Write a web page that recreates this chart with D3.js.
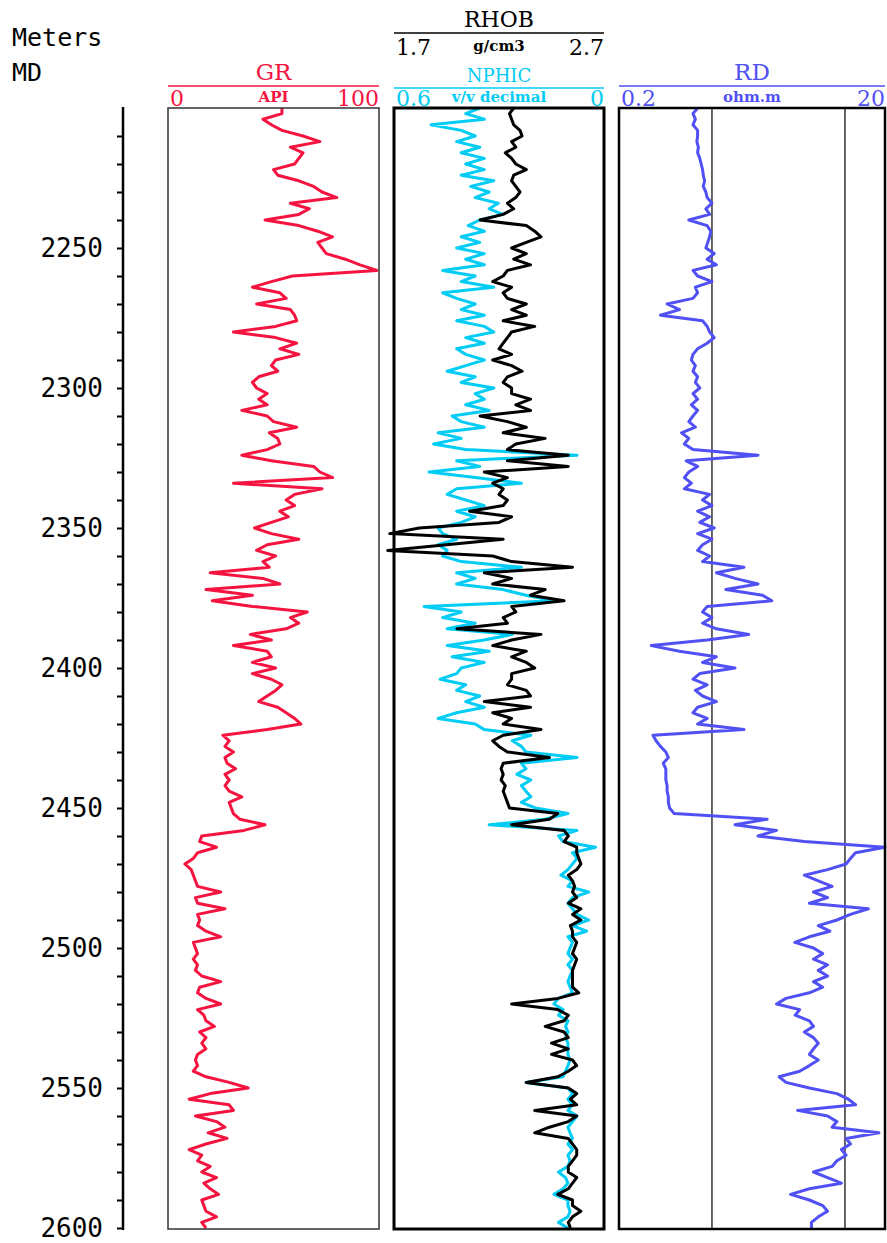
<!DOCTYPE html>
<html>
<head>
<meta charset="utf-8">
<script src="https://cdn.jsdelivr.net/npm/d3@7"></script>
<style>
body { margin: 0; background: #fff; }
</style>
</head>
<body>
<div id="chart"></div>
<script>
// Page size
var w = 887;
var h = 1243;

// Depth samples (m MD), one every 2 m
var depth = d3.range(2200, 2601, 2);

// Gamma ray, API
var gr = [
  54, 54, 45, 49, 54, 64, 72, 58, 64, 62,
  60, 50, 52, 62, 69, 73, 80, 58, 67, 62,
  46, 62, 71, 78, 71, 73, 75, 84, 91, 99,
  59, 49, 40, 53, 56, 42, 58, 60, 61, 51,
  31, 51, 61, 53, 62, 51, 49, 52, 43, 40,
  42, 47, 43, 47, 35, 47, 50, 61, 48, 52,
  53, 47, 35, 49, 69, 72, 78, 31, 73, 60,
  56, 60, 53, 57, 49, 41, 49, 62, 47, 42,
  51, 45, 48, 20, 45, 53, 18, 40, 21, 40,
  66, 58, 62, 56, 39, 49, 31, 47, 49, 40,
  51, 40, 49, 54, 51, 47, 43, 52, 56, 60,
  63, 47, 26, 29, 27, 31, 27, 28, 32, 27,
  29, 27, 29, 35, 29, 30, 31, 34, 46, 36,
  16, 15, 23, 14, 12, 8, 11, 12, 13, 14,
  25, 13, 14, 27, 14, 15, 14, 18, 25, 12,
  13, 14, 12, 14, 13, 16, 25, 15, 14, 18,
  25, 14, 17, 18, 22, 15, 18, 16, 18, 14,
  13, 14, 12, 18, 29, 38, 20, 10, 29, 31,
  13, 23, 27, 19, 28, 18, 10, 16, 14, 20,
  16, 23, 17, 20, 24, 16, 17, 18, 23, 16,
  18
];

// Neutron porosity, v/v decimal
var nphi = [
  0.355, 0.395, 0.342, 0.494, 0.408, 0.368, 0.421, 0.355, 0.408, 0.342,
  0.395, 0.342, 0.408, 0.315, 0.381, 0.328, 0.368, 0.302, 0.328, 0.289,
  0.355, 0.388, 0.342, 0.408, 0.355, 0.421, 0.342, 0.395, 0.342, 0.461,
  0.368, 0.408, 0.315, 0.461, 0.421, 0.368, 0.408, 0.342, 0.421, 0.342,
  0.315, 0.395, 0.342, 0.421, 0.395, 0.342, 0.395, 0.448, 0.368, 0.408,
  0.315, 0.368, 0.342, 0.395, 0.328, 0.434, 0.408, 0.342, 0.474, 0.408,
  0.487, 0.395, 0.077, 0.421, 0.355, 0.500, 0.368, 0.236, 0.421, 0.448,
  0.395, 0.342, 0.421, 0.368, 0.408, 0.474, 0.461, 0.421, 0.474, 0.448,
  0.461, 0.408, 0.236, 0.421, 0.368, 0.421, 0.289, 0.223, 0.143, 0.514,
  0.408, 0.461, 0.368, 0.448, 0.262, 0.342, 0.448, 0.328, 0.434, 0.342,
  0.408, 0.421, 0.468, 0.395, 0.421, 0.355, 0.395, 0.342, 0.421, 0.474,
  0.368, 0.342, 0.209, 0.262, 0.236, 0.223, 0.077, 0.236, 0.223, 0.249,
  0.209, 0.236, 0.223, 0.209, 0.236, 0.196, 0.103, 0.170, 0.328, 0.077,
  0.130, 0.117, 0.024, 0.090, 0.077, 0.090, 0.103, 0.123, 0.090, 0.103,
  0.044, 0.090, 0.103, 0.090, 0.077, 0.044, 0.090, 0.050, 0.103, 0.090,
  0.097, 0.103, 0.090, 0.103, 0.090, 0.097, 0.103, 0.097, 0.090, 0.130,
  0.143, 0.117, 0.130, 0.103, 0.110, 0.103, 0.110, 0.103, 0.103, 0.103,
  0.097, 0.103, 0.110, 0.117, 0.223, 0.103, 0.090, 0.103, 0.090, 0.103,
  0.077, 0.090, 0.103, 0.097, 0.090, 0.103, 0.090, 0.103, 0.097, 0.103,
  0.130, 0.110, 0.103, 0.117, 0.143, 0.103, 0.103, 0.097, 0.103, 0.130,
  0.103
];

// Bulk density, g/cm3
var rhob = [
  2.27, 2.25, 2.26, 2.27, 2.30, 2.31, 2.26, 2.28, 2.23, 2.26,
  2.28, 2.33, 2.27, 2.26, 2.28, 2.30, 2.28, 2.24, 2.27, 2.22,
  2.11, 2.33, 2.37, 2.40, 2.33, 2.26, 2.33, 2.27, 2.35, 2.24,
  2.22, 2.17, 2.26, 2.22, 2.24, 2.33, 2.26, 2.33, 2.22, 2.37,
  2.26, 2.24, 2.22, 2.20, 2.26, 2.17, 2.26, 2.31, 2.24, 2.22,
  2.26, 2.26, 2.35, 2.28, 2.35, 2.11, 2.24, 2.33, 2.22, 2.42,
  2.28, 2.24, 2.53, 2.24, 2.53, 2.13, 2.24, 2.17, 2.22, 2.20,
  2.24, 2.22, 2.06, 2.26, 2.20, 1.82, 1.68, 2.22, 1.95, 1.67,
  2.17, 2.26, 2.55, 2.13, 2.26, 2.17, 2.42, 2.35, 2.51, 2.26,
  2.28, 2.22, 2.24, 2.00, 2.40, 2.26, 2.17, 2.33, 2.26, 2.33,
  2.37, 2.26, 2.26, 2.24, 2.33, 2.35, 2.13, 2.35, 2.17, 2.26,
  2.22, 2.40, 2.22, 2.17, 2.20, 2.24, 2.44, 2.22, 2.21, 2.22,
  2.21, 2.23, 2.22, 2.23, 2.24, 2.25, 2.48, 2.44, 2.26, 2.51,
  2.53, 2.51, 2.57, 2.57, 2.58, 2.59, 2.57, 2.53, 2.55, 2.56,
  2.55, 2.57, 2.53, 2.59, 2.55, 2.59, 2.54, 2.55, 2.55, 2.57,
  2.56, 2.55, 2.57, 2.56, 2.55, 2.55, 2.55, 2.55, 2.58, 2.48,
  2.26, 2.48, 2.53, 2.51, 2.42, 2.51, 2.53, 2.45, 2.53, 2.45,
  2.55, 2.57, 2.53, 2.48, 2.33, 2.53, 2.57, 2.54, 2.57, 2.37,
  2.57, 2.53, 2.44, 2.37, 2.53, 2.55, 2.57, 2.57, 2.55, 2.53,
  2.53, 2.57, 2.55, 2.53, 2.48, 2.55, 2.55, 2.59, 2.55, 2.53,
  2.54
];

// Deep resistivity, ohm.m
var rd = [
  0.78, 0.72, 0.75, 0.72, 0.78, 0.78, 0.77, 0.79, 0.78, 0.81,
  0.83, 0.85, 0.86, 0.88, 0.86, 0.90, 0.92, 1.00, 0.90, 0.96,
  0.67, 0.92, 0.98, 0.96, 0.93, 0.90, 1.04, 0.92, 1.08, 0.72,
  0.78, 1.00, 0.75, 0.78, 0.72, 0.46, 0.57, 0.41, 0.85, 0.92,
  0.96, 1.04, 0.92, 0.78, 0.72, 0.70, 0.75, 0.72, 0.78, 0.75,
  0.81, 0.72, 0.78, 0.70, 0.78, 0.72, 0.67, 0.75, 0.59, 0.67,
  0.62, 0.72, 2.22, 0.64, 0.78, 0.67, 0.62, 0.70, 0.62, 0.96,
  0.85, 1.00, 0.78, 0.96, 0.81, 1.04, 0.78, 1.00, 0.85, 0.78,
  0.96, 0.85, 1.74, 1.08, 1.49, 2.22, 1.27, 2.40, 2.82, 0.92,
  0.85, 1.00, 0.85, 1.08, 1.89, 0.92, 0.35, 0.57, 1.08, 0.85,
  1.49, 0.81, 0.72, 0.92, 0.75, 0.85, 1.08, 0.78, 0.72, 0.92,
  0.78, 1.74, 0.36, 0.38, 0.41, 0.45, 0.47, 0.43, 0.45, 0.45,
  0.45, 0.46, 0.46, 0.47, 0.47, 0.48, 0.52, 2.6, 1.49, 3.06,
  2.22, 4.95, 20, 12, 11, 10.2, 7.4, 4.95, 6.3, 8.0,
  5.8, 7.4, 5.4, 15, 11, 8.7, 6.3, 7.7, 5.4, 4.2,
  5.8, 6.8, 5.8, 7.4, 6.3, 7.4, 5.8, 6.8, 5.4, 3.6,
  3.06, 4.57, 4.22, 5.4, 5.8, 4.95, 5.8, 6.3, 5.8, 5.4,
  6.3, 5.4, 4.57, 3.2, 3.6, 5.4, 8.7, 10.6, 12, 4.4,
  7.4, 8.7, 8.0, 18, 10.2, 11, 9.4, 10.2, 8.7, 8.0,
  5.8, 7.4, 9.4, 5.4, 3.9, 5.4, 6.8, 7.4, 6.3, 5.6,
  5.6
];

// Depth ticks every 10 m, labels every 50 m
var depthTicks = d3.range(2210, 2601, 10);

var colGR = "#f5143f";
var colNPHI = "#00ccf5";
var colRD = "#5050f5";

var serif = "'DejaVu Serif', serif";
var mono = "'DejaVu Sans Mono', monospace";

var svg = d3.select("#chart")
    .append("svg")
    .attr("width", w)
    .attr("height", h);

// Scales
var y = d3.scaleLinear().domain([2200, 2600]).range([108, 1228]);
var xGR = d3.scaleLinear().domain([0, 100]).range([168, 379]);
var xNPHI = d3.scaleLinear().domain([0.6, 0]).range([394, 604]);
var xRHOB = d3.scaleLinear().domain([1.7, 2.7]).range([394, 604]);
var xRD = d3.scaleLog().domain([0.2, 20]).range([619, 885]);

var yTop = y(2200), yBottom = 1229;

// Depth axis
var axis = d3.axisLeft(y)
    .tickValues(depthTicks)
    .tickSize(6)
    .tickPadding(14)
    .tickFormat(function(d) { return d % 50 === 0 ? d : ""; });

var gAxis = svg.append("g")
    .attr("transform", "translate(123,0)")
    .call(axis);
gAxis.select(".domain").remove();
gAxis.selectAll(".tick line").attr("stroke", "#000").attr("stroke-width", 2);
gAxis.selectAll(".tick text")
    .style("font-family", mono)
    .style("font-size", "26px")
    .attr("fill", "#000");
svg.append("line")
    .attr("x1", 123).attr("x2", 123)
    .attr("y1", yTop - 1).attr("y2", yBottom + 1)
    .attr("stroke", "#000").attr("stroke-width", 2.5);

svg.append("text").attr("x", 12).attr("y", 46).text("Meters")
    .style("font-family", mono).style("font-size", "25px");
svg.append("text").attr("x", 12).attr("y", 81).text("MD")
    .style("font-family", mono).style("font-size", "25px");

// RD grid lines at 1 and 10 ohm.m
svg.selectAll("line.rdgrid")
    .data([1, 10])
    .enter()
    .append("line")
    .attr("class", "rdgrid")
    .attr("x1", function(d) { return xRD(d); })
    .attr("x2", function(d) { return xRD(d); })
    .attr("y1", yTop).attr("y2", yBottom)
    .attr("stroke", "#333").attr("stroke-width", 1.5);

// Curves
function curve(xs, values, color) {
    var line = d3.line()
        .x(function(d, i) { return xs(values[i]); })
        .y(function(d) { return y(d); });
    svg.append("path")
        .datum(depth.slice(0, values.length))
        .attr("d", line)
        .attr("fill", "none")
        .attr("stroke", color)
        .attr("stroke-width", 3)
        .attr("stroke-linejoin", "round");
}

curve(xGR, gr, colGR);
curve(xNPHI, nphi, colNPHI);
curve(xRHOB, rhob, "#000");
curve(xRD, rd, colRD);

// Track frames
svg.append("rect").attr("x", 168).attr("y", yTop).attr("width", 211).attr("height", yBottom - yTop)
    .attr("fill", "none").attr("stroke", "#333").attr("stroke-width", 1.5);
svg.append("rect").attr("x", 394).attr("y", yTop).attr("width", 210).attr("height", yBottom - yTop)
    .attr("fill", "none").attr("stroke", "#000").attr("stroke-width", 3);
svg.append("rect").attr("x", 619).attr("y", yTop).attr("width", 266).attr("height", yBottom - yTop)
    .attr("fill", "none").attr("stroke", "#000").attr("stroke-width", 2.5);

// Curve headers
function header(x0, x1, lineY, title, titleSize, color, left, unit, right, numY) {
    var g = svg.append("g").attr("fill", color).style("font-family", serif);
    g.append("text").attr("x", (x0 + x1) / 2).attr("y", lineY - 6)
        .attr("text-anchor", "middle").style("font-size", titleSize + "px").text(title);
    g.append("line").attr("x1", x0).attr("x2", x1).attr("y1", lineY).attr("y2", lineY)
        .attr("stroke", color).attr("stroke-width", 1.5);
    g.append("text").attr("x", x0 + 2).attr("y", numY)
        .style("font-size", "22px").text(left);
    g.append("text").attr("x", (x0 + x1) / 2).attr("y", numY - 4)
        .attr("text-anchor", "middle").style("font-size", "15px").style("font-weight", "bold").text(unit);
    g.append("text").attr("x", x1).attr("y", numY)
        .attr("text-anchor", "end").style("font-size", "22px").text(right);
}

header(168, 379, 86, "GR", 23, colGR, "0", "API", "100", 106);
header(394, 604, 88, "NPHIC", 18, colNPHI, "0.6", "v/v decimal", "0", 106);
header(394, 604, 33, "RHOB", 22, "#000", "1.7", "g/cm3", "2.7", 55);
header(619, 885, 86, "RD", 23, colRD, "0.2", "ohm.m", "20", 106);
</script>
</body>
</html>
